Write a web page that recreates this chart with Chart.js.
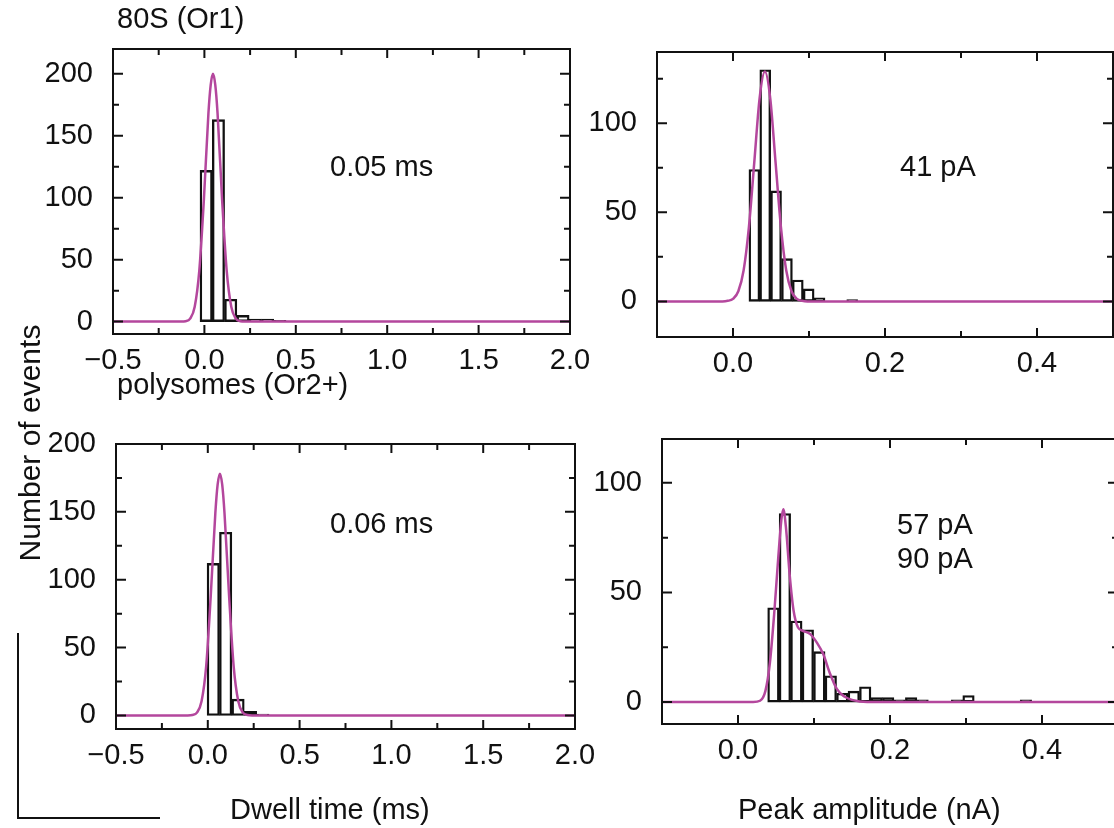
<!DOCTYPE html>
<html>
<head>
<meta charset="utf-8">
<script src="https://cdn.jsdelivr.net/npm/chart.js@4.4.1/dist/chart.umd.min.js"></script>
<style>
  body { margin: 0; background: #fff; }
  #wrap { position: relative; width: 1114px; height: 828px; overflow: hidden;
          font-family: "Liberation Sans", Arial, sans-serif; color: #111; }
  #wrap canvas { position: absolute; left: 0; top: 0; }
  .lbl { position: absolute; font-size: 29px; line-height: 1; white-space: nowrap; transform: translateY(-50%); }
  .bar { position: absolute; background: #111; }
</style>
</head>
<body>
<div id="wrap">
  <canvas id="c1" width="1130" height="828"></canvas>
  <canvas id="c2" width="1130" height="828"></canvas>
  <canvas id="c3" width="1130" height="828"></canvas>
  <canvas id="c4" width="1130" height="828"></canvas>

  <div class="lbl" style="left:117px;top:18px">80S (Or1)</div>
  <div class="lbl" style="left:117px;top:384px">polysomes (Or2+)</div>
  <div class="lbl" style="left:330px;top:166px">0.05 ms</div>
  <div class="lbl" style="left:330px;top:523px">0.06 ms</div>
  <div class="lbl" style="left:900px;top:166px">41 pA</div>
  <div class="lbl" style="left:897px;top:524px">57 pA</div>
  <div class="lbl" style="left:897px;top:558px">90 pA</div>
  <div class="lbl" style="left:230px;top:809px">Dwell time (ms)</div>
  <div class="lbl" style="left:738px;top:809px">Peak amplitude (nA)</div>
  <div class="lbl" style="left:30px;top:443px;font-size:30px;transform:translate(-50%,-50%) rotate(-90deg)">Number of events</div>

  <!-- scale bar, bottom left -->
  <div class="bar" style="left:17px;top:633px;width:2px;height:186px"></div>
  <div class="bar" style="left:17px;top:817px;width:143px;height:2px"></div>
</div>

<script>
const PURPLE = '#b4479d';
const W = 1130, H = 828;

// tick positions (labelled = major)
const dwellXMajor = [-0.5, 0.0, 0.5, 1.0, 1.5, 2.0];
const dwellXMinor = [-0.25, 0.25, 0.75, 1.25, 1.75];
const ampXMajor = [0.0, 0.2, 0.4];
const ampXMinor = [0.1, 0.3, 0.5];
const dwellYMajor = [0, 50, 100, 150, 200];
const dwellYMinor = [25, 75, 125, 175];
const amp80sYMajor = [0, 50, 100];
const amp80sYMinor = [25, 75, 125];
const ampPolyYMajor = [0, 50, 100];
const ampPolyYMinor = [25, 75];

// ---- 80S (Or1), dwell time (ms) ----
const dwell80sBins   = [0.0096, 0.0768, 0.1440, 0.2112, 0.2784, 0.3456, 0.4128];
const dwell80sCounts = [122, 163, 18, 5, 2, 2, 1];
const dwell80sFitX = [-0.5, -0.128, -0.103, -0.078, -0.053, -0.028, -0.003, 0.022, 0.0345, 0.047, 0.0595, 0.072, 0.097, 0.122, 0.147, 0.172, 0.197, 0.222, 2.0];
const dwell80sFitY = [0, 0, 0.3, 2.4, 12, 41, 98, 168, 191, 200, 191, 168, 98, 41, 12, 2.4, 0.3, 0, 0];

// ---- 80S (Or1), peak amplitude (nA) ----
const amp80sBins   = [0.0281, 0.0424, 0.0567, 0.0710, 0.0853, 0.0996, 0.1139, 0.1282, 0.1425, 0.1568];
const amp80sCounts = [74, 130, 62, 24, 12, 7, 2, 0, 0, 1];
const amp80sFitX = [-0.1, -0.014, -0.007, 0.0, 0.007, 0.014, 0.021, 0.028, 0.035, 0.042, 0.049, 0.056, 0.063, 0.070, 0.077, 0.084, 0.091, 0.098, 0.5];
const amp80sFitY = [0, 0, 0.3, 1.4, 5.7, 17.5, 42, 78, 114, 129, 114, 78, 42, 17.5, 5.7, 1.4, 0.3, 0, 0];

// ---- polysomes (Or2+), dwell time (ms) ----
const dwellPolyBins   = [0.0298, 0.0973, 0.1648, 0.2323, 0.2998];
const dwellPolyCounts = [112, 135, 12, 3, 1];
const dwellPolyFitX = [-0.5, -0.109, -0.084, -0.059, -0.034, -0.009, 0.016, 0.041, 0.0535, 0.066, 0.0785, 0.091, 0.116, 0.141, 0.166, 0.191, 0.216, 0.241, 2.0];
const dwellPolyFitY = [0, 0, 0.3, 2.1, 10.5, 36, 88, 149, 170, 178, 170, 149, 88, 36, 10.5, 2.1, 0.3, 0, 0];

// ---- polysomes (Or2+), peak amplitude (nA) ----
const ampPolyBins = [0.0466, 0.0617, 0.0768, 0.0919, 0.1070, 0.1221, 0.1372, 0.1523, 0.1674, 0.1825, 0.1976, 0.2127,
                     0.2278, 0.2429, 0.2580, 0.2731, 0.2882, 0.3033, 0.3184, 0.3335, 0.3486, 0.3637, 0.3788];
const ampPolyCounts = [43, 86, 37, 33, 23, 12, 4, 5, 7, 2, 2, 1, 2, 1, 0, 0, 1, 3, 0, 0, 0, 0, 1];
const ampPolyFitX = [-0.1, 0.02, 0.029, 0.036, 0.042, 0.048, 0.053, 0.057, 0.0596, 0.063, 0.068, 0.073, 0.079, 0.086, 0.095, 0.104, 0.112, 0.121, 0.130, 0.140, 0.150, 0.170, 0.5];
const ampPolyFitY = [0, 0, 0.6, 5, 18, 42, 66, 83, 88, 80, 58, 42, 34, 32.4, 31, 27, 22, 13, 6, 2.5, 1, 0, 0];

const font = { family: '"Liberation Sans", Arial, sans-serif', size: 29 };

// box frame with inward ticks on all four sides
const framePlugin = {
  id: 'frame',
  afterDatasetsDraw(chart) {
    const { ctx, chartArea: a, scales: { x, y } } = chart;
    ctx.save();
    ctx.strokeStyle = '#111';
    ctx.lineWidth = 2;
    ctx.beginPath();
    x.ticks.forEach(t => {
      const p = x.getPixelForValue(t.value);
      if (p <= a.left + 2 || p >= a.right - 2) return;
      const len = t.mj ? 9 : 6;
      ctx.moveTo(p, a.bottom); ctx.lineTo(p, a.bottom - len);
      ctx.moveTo(p, a.top); ctx.lineTo(p, a.top + len);
    });
    y.ticks.forEach(t => {
      const p = y.getPixelForValue(t.value);
      if (p <= a.top + 2 || p >= a.bottom - 2) return;
      const len = t.mj ? 10 : 6;
      ctx.moveTo(a.left, p); ctx.lineTo(a.left + len, p);
      ctx.moveTo(a.right, p); ctx.lineTo(a.right - len, p);
    });
    ctx.stroke();
    ctx.strokeRect(a.left, a.top, a.right - a.left, a.bottom - a.top);
    ctx.restore();
  }
};

function tickList(major, minor) {
  return major.map(v => ({ value: v, mj: true }))
    .concat(minor.map(v => ({ value: v, mj: false })))
    .sort((p, q) => p.value - q.value);
}

function panel(id, box, xr, yr, bins, counts, fitX, fitY) {
  return new Chart(document.getElementById(id), {
    type: 'bar',
    data: {
      datasets: [
        {
          type: 'line',
          data: fitX.map((x, i) => ({ x, y: fitY[i] })),
          borderColor: PURPLE, borderWidth: 2.5,
          pointRadius: 0, cubicInterpolationMode: 'monotone',
          order: 0
        },
        {
          type: 'bar',
          data: bins.map((x, i) => ({ x, y: counts[i] })),
          backgroundColor: 'rgba(255,255,255,0)',
          borderColor: '#111', borderWidth: 1.7, borderSkipped: false,
          barPercentage: 1, categoryPercentage: 1,
          order: 1
        }
      ]
    },
    options: {
      responsive: false, animation: false, events: [],
      layout: { padding: { left: box.l - 100, top: box.t, right: W - box.r, bottom: H - box.b - 60 } },
      plugins: { legend: { display: false }, tooltip: { enabled: false } },
      scales: {
        x: {
          type: 'linear', min: xr.min, max: xr.max, offset: false,
          grid: { display: false }, border: { display: false },
          afterBuildTicks: s => { s.ticks = tickList(xr.major, xr.minor); },
          ticks: {
            autoSkip: false, maxRotation: 0, padding: 2, font, color: '#111',
            callback: (v, i, ts) => ts[i].mj ? v.toFixed(1).replace('-', '\u2212') : ''
          },
          afterFit: s => { s.height = 60; }
        },
        y: {
          min: yr.min, max: yr.max,
          grid: { display: false }, border: { display: false },
          afterBuildTicks: s => { s.ticks = tickList(yr.major, yr.minor); },
          ticks: {
            autoSkip: false, padding: 12, font, color: '#111',
            callback: (v, i, ts) => ts[i].mj ? String(v) : ''
          },
          afterFit: s => { s.width = 100; }
        }
      }
    },
    plugins: [framePlugin]
  });
}

panel('c1', { l: 113, t: 49, r: 570, b: 334 },
  { min: -0.5, max: 2.0, major: dwellXMajor, minor: dwellXMinor },
  { min: -10, max: 220, major: dwellYMajor, minor: dwellYMinor },
  dwell80sBins, dwell80sCounts, dwell80sFitX, dwell80sFitY);

panel('c2', { l: 657, t: 52, r: 1113, b: 337 },
  { min: -0.1, max: 0.5, major: ampXMajor, minor: ampXMinor },
  { min: -20, max: 140, major: amp80sYMajor, minor: amp80sYMinor },
  amp80sBins, amp80sCounts, amp80sFitX, amp80sFitY);

panel('c3', { l: 116, t: 444, r: 575, b: 729 },
  { min: -0.5, max: 2.0, major: dwellXMajor, minor: dwellXMinor },
  { min: -10, max: 200, major: dwellYMajor, minor: dwellYMinor },
  dwellPolyBins, dwellPolyCounts, dwellPolyFitX, dwellPolyFitY);

panel('c4', { l: 662, t: 439, r: 1118, b: 724 },
  { min: -0.1, max: 0.5, major: ampXMajor, minor: ampXMinor },
  { min: -10, max: 120, major: ampPolyYMajor, minor: ampPolyYMinor },
  ampPolyBins, ampPolyCounts, ampPolyFitX, ampPolyFitY);
</script>
</body>
</html>
